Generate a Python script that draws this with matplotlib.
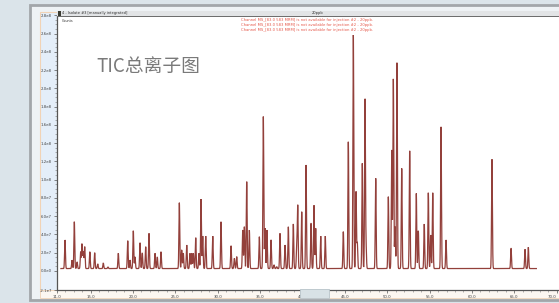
import numpy as np
import matplotlib
matplotlib.use("Agg")
import matplotlib.pyplot as plt
from matplotlib.patches import Rectangle

# peak table: retention time (min) and apex counts
peak_rt = [11.98, 12.81, 13.08, 13.40, 13.83, 13.99, 14.14, 14.30, 14.91, 15.48,
           15.84, 16.50, 17.05, 18.27, 19.38, 19.65, 20.04, 20.24, 20.83, 21.10,
           21.50, 21.89, 22.60, 22.87, 23.31, 25.47, 25.75, 25.94, 26.34, 26.73,
           26.93, 27.12, 27.40, 27.79, 28.03, 28.23, 28.58, 29.41, 30.39, 31.57,
           31.96, 32.24, 32.95, 33.14, 33.42, 33.73, 34.91, 35.38, 35.58, 35.81,
           36.29, 36.64, 36.96, 37.35, 37.94, 38.33, 38.92, 39.32, 39.44, 39.91,
           40.42, 41.01, 41.36, 41.56, 42.15, 42.69, 44.82, 45.41, 46.00, 46.32,
           46.47, 47.06, 47.38, 47.50, 48.64, 50.13, 50.53, 50.72, 50.92, 51.15,
           51.71, 52.65, 53.43, 53.67, 54.37, 54.85, 55.13, 55.37, 56.35, 56.94,
           62.36, 64.61, 66.26, 66.65]
peak_counts = [3.38e7, 1.18e7, 5.38e7, 0.96e7, 2.09e7, 2.94e7, 2.09e7, 2.64e7, 2.09e7, 1.98e7,
               0.75e7, 0.85e7, 0.42e7, 1.92e7, 3.30e7, 1.18e7, 4.39e7, 1.51e7, 3.08e7, 1.95e7,
               2.64e7, 4.11e7, 1.92e7, 1.51e7, 2.09e7, 7.46e7, 2.28e7, 1.92e7, 2.83e7, 1.92e7,
               1.92e7, 1.92e7, 3.63e7, 1.92e7, 7.87e7, 3.81e7, 3.81e7, 3.81e7, 5.38e7, 2.75e7,
               1.37e7, 1.55e7, 4.47e7, 4.83e7, 9.77e7, 4.47e7, 3.74e7, 1.69e8, 4.66e7, 4.47e7,
               3.38e7, 0.64e7, 0.45e7, 4.11e7, 2.83e7, 4.83e7, 5.13e7, 2.64e7, 7.10e7, 6.48e7,
               1.16e8, 5.21e7, 7.18e7, 4.66e7, 3.81e7, 3.81e7, 4.29e7, 1.415e8, 2.584e8, 8.67e7,
               3.05e7, 1.178e8, 1.872e8, 2.61e7, 1.014e8, 8.12e7, 1.324e8, 2.102e8, 4.83e7, 2.281e8,
               1.123e8, 1.316e8, 8.49e7, 4.39e7, 5.13e7, 8.56e7, 3.92e7, 8.56e7, 1.579e8, 3.38e7,
               1.222e8, 2.47e7, 2.36e7, 2.58e7]
baseline_counts = 2.5e6
run_start, run_end = 11.5, 67.6

xtick_values = [11, 15, 20, 25, 30, 35, 40, 45, 50, 55, 60, 65, 70]
xtick_labels = ["11.0", "15.0", "20.0", "25.0", "30.0", "35.0", "40.0",
                "45.0", "50.0", "55.0", "60.0", "65.0", "70.0"]
ytick_values = [-2.1e7, 0, 2e7, 4e7, 6e7, 8e7, 1e8, 1.2e8, 1.4e8, 1.6e8,
                1.8e8, 2.0e8, 2.2e8, 2.4e8, 2.6e8, 2.8e8]
ytick_labels = ["-2.1e7", "0.0e0", "2.0e7", "4.0e7", "6.0e7", "8.0e7", "1.0e8", "1.2e8",
                "1.4e8", "1.6e8", "1.8e8", "2.0e8", "2.2e8", "2.4e8", "2.6e8", "2.8e8"]

header_text = "4 - Isolate #3 [manually integrated]"
center_text = "20ppb"
warning_text = "Channel MS_[83.0 583 MRM] is not available for injection #2 - 20ppb."
overlay_title = "TIC总离子图"

W, H = 559, 303


def fx(x):
    return x / W


def fy(y):
    return 1 - y / H


def box(fig, x0, y0, x1, y1, **kw):
    r = Rectangle((fx(x0), fy(y1)), fx(x1) - fx(x0), fy(y0) - fy(y1),
                  transform=fig.transFigure, **kw)
    fig.add_artist(r)
    return r


fig = plt.figure(figsize=(W / 100, H / 100), dpi=100)
fig.patch.set_facecolor("#dbe4ea")

# window frame and panels
box(fig, 30, 5, 562, 300, facecolor="#eef2f5", edgecolor="#a2a6aa", lw=2, zorder=-3)
box(fig, 40, 12, 57, 292, facecolor="#e4eef9", edgecolor="#f1d3b6", lw=0.8, zorder=-2)
box(fig, 40, 290, 562, 298, facecolor="#fcf7f1", edgecolor="#f1d3b6", lw=0.6, zorder=-2)

ax = fig.add_axes([fx(56.7), fy(290), 1 - fx(56.7), fy(15.3) - fy(290)])
ax.set_facecolor("white")

# rebuild the trace from the peak table
t = np.arange(run_start, run_end, 0.004)
sig = 0.05
trace = np.full_like(t, baseline_counts)
for rt, h in zip(peak_rt, peak_counts):
    trace += (h - baseline_counts) * np.exp(-0.5 * ((t - rt) / sig) ** 2)
ax.plot(t, trace, color="#93403b", lw=0.9, solid_joinstyle="miter")

ax.set_xlim(11, 11 + (W - 56.7) / 8.475)
ax.set_ylim(-2.1e7, 2.8e8)
ax.set_xticks(xtick_values)
ax.set_xticklabels(xtick_labels)
ax.set_xticks(np.arange(11, 71, 1), minor=True)
ax.set_yticks(ytick_values)
ax.set_yticklabels(ytick_labels)
ax.set_yticks(np.arange(0, 2.8e8, 5e6), minor=True)
ax.tick_params(axis="both", which="major", labelsize=2.8, colors="#555555",
               labelcolor="#444444", length=2.5, width=0.5, pad=1)
ax.tick_params(axis="both", which="minor", length=1.3, width=0.4, colors="#777777")
ax.get_xticklabels()[-1].set_horizontalalignment("right")
for s in ["top", "right"]:
    ax.spines[s].set_visible(False)
for s in ["left", "bottom"]:
    ax.spines[s].set_color("#555555")
    ax.spines[s].set_linewidth(0.9)

# title bar over the plot
box(fig, 57, 10.5, 562, 16, facecolor="#e2e4e6", edgecolor="none", zorder=5)
fig.add_artist(plt.Line2D([fx(57), 1], [fy(16), fy(16)], color="#6a6a6a", lw=0.7, zorder=6))
box(fig, 57.5, 11, 60.5, 15.5, facecolor="#3a3a30", edgecolor="none", zorder=6)
fig.text(fx(62), fy(13.3), header_text, fontsize=2.6, color="#303030", va="center", zorder=7)
fig.text(fx(318), fy(13.3), center_text, fontsize=2.6, color="#303030", va="center",
         ha="center", zorder=7)

fig.text(fx(62), fy(21), "Counts", fontsize=2.4, color="#333333", va="center")
for yy in [20.5, 25.2, 29.9]:
    fig.text(fx(241), fy(yy), warning_text, fontsize=2.7, color="#e5584a", va="center")

fig.text(fx(96), fy(66), overlay_title, fontsize=13.5, color="#7a7a7a", va="center",
         family=["Noto Sans CJK SC", "DejaVu Sans"])

# small widget covering the axis near 40.0
box(fig, 300, 288.5, 329, 297.5, facecolor="#d8e2e6", edgecolor="#b9c5cb", lw=0.6, zorder=6)

fig.savefig("out.png", dpi=100)
